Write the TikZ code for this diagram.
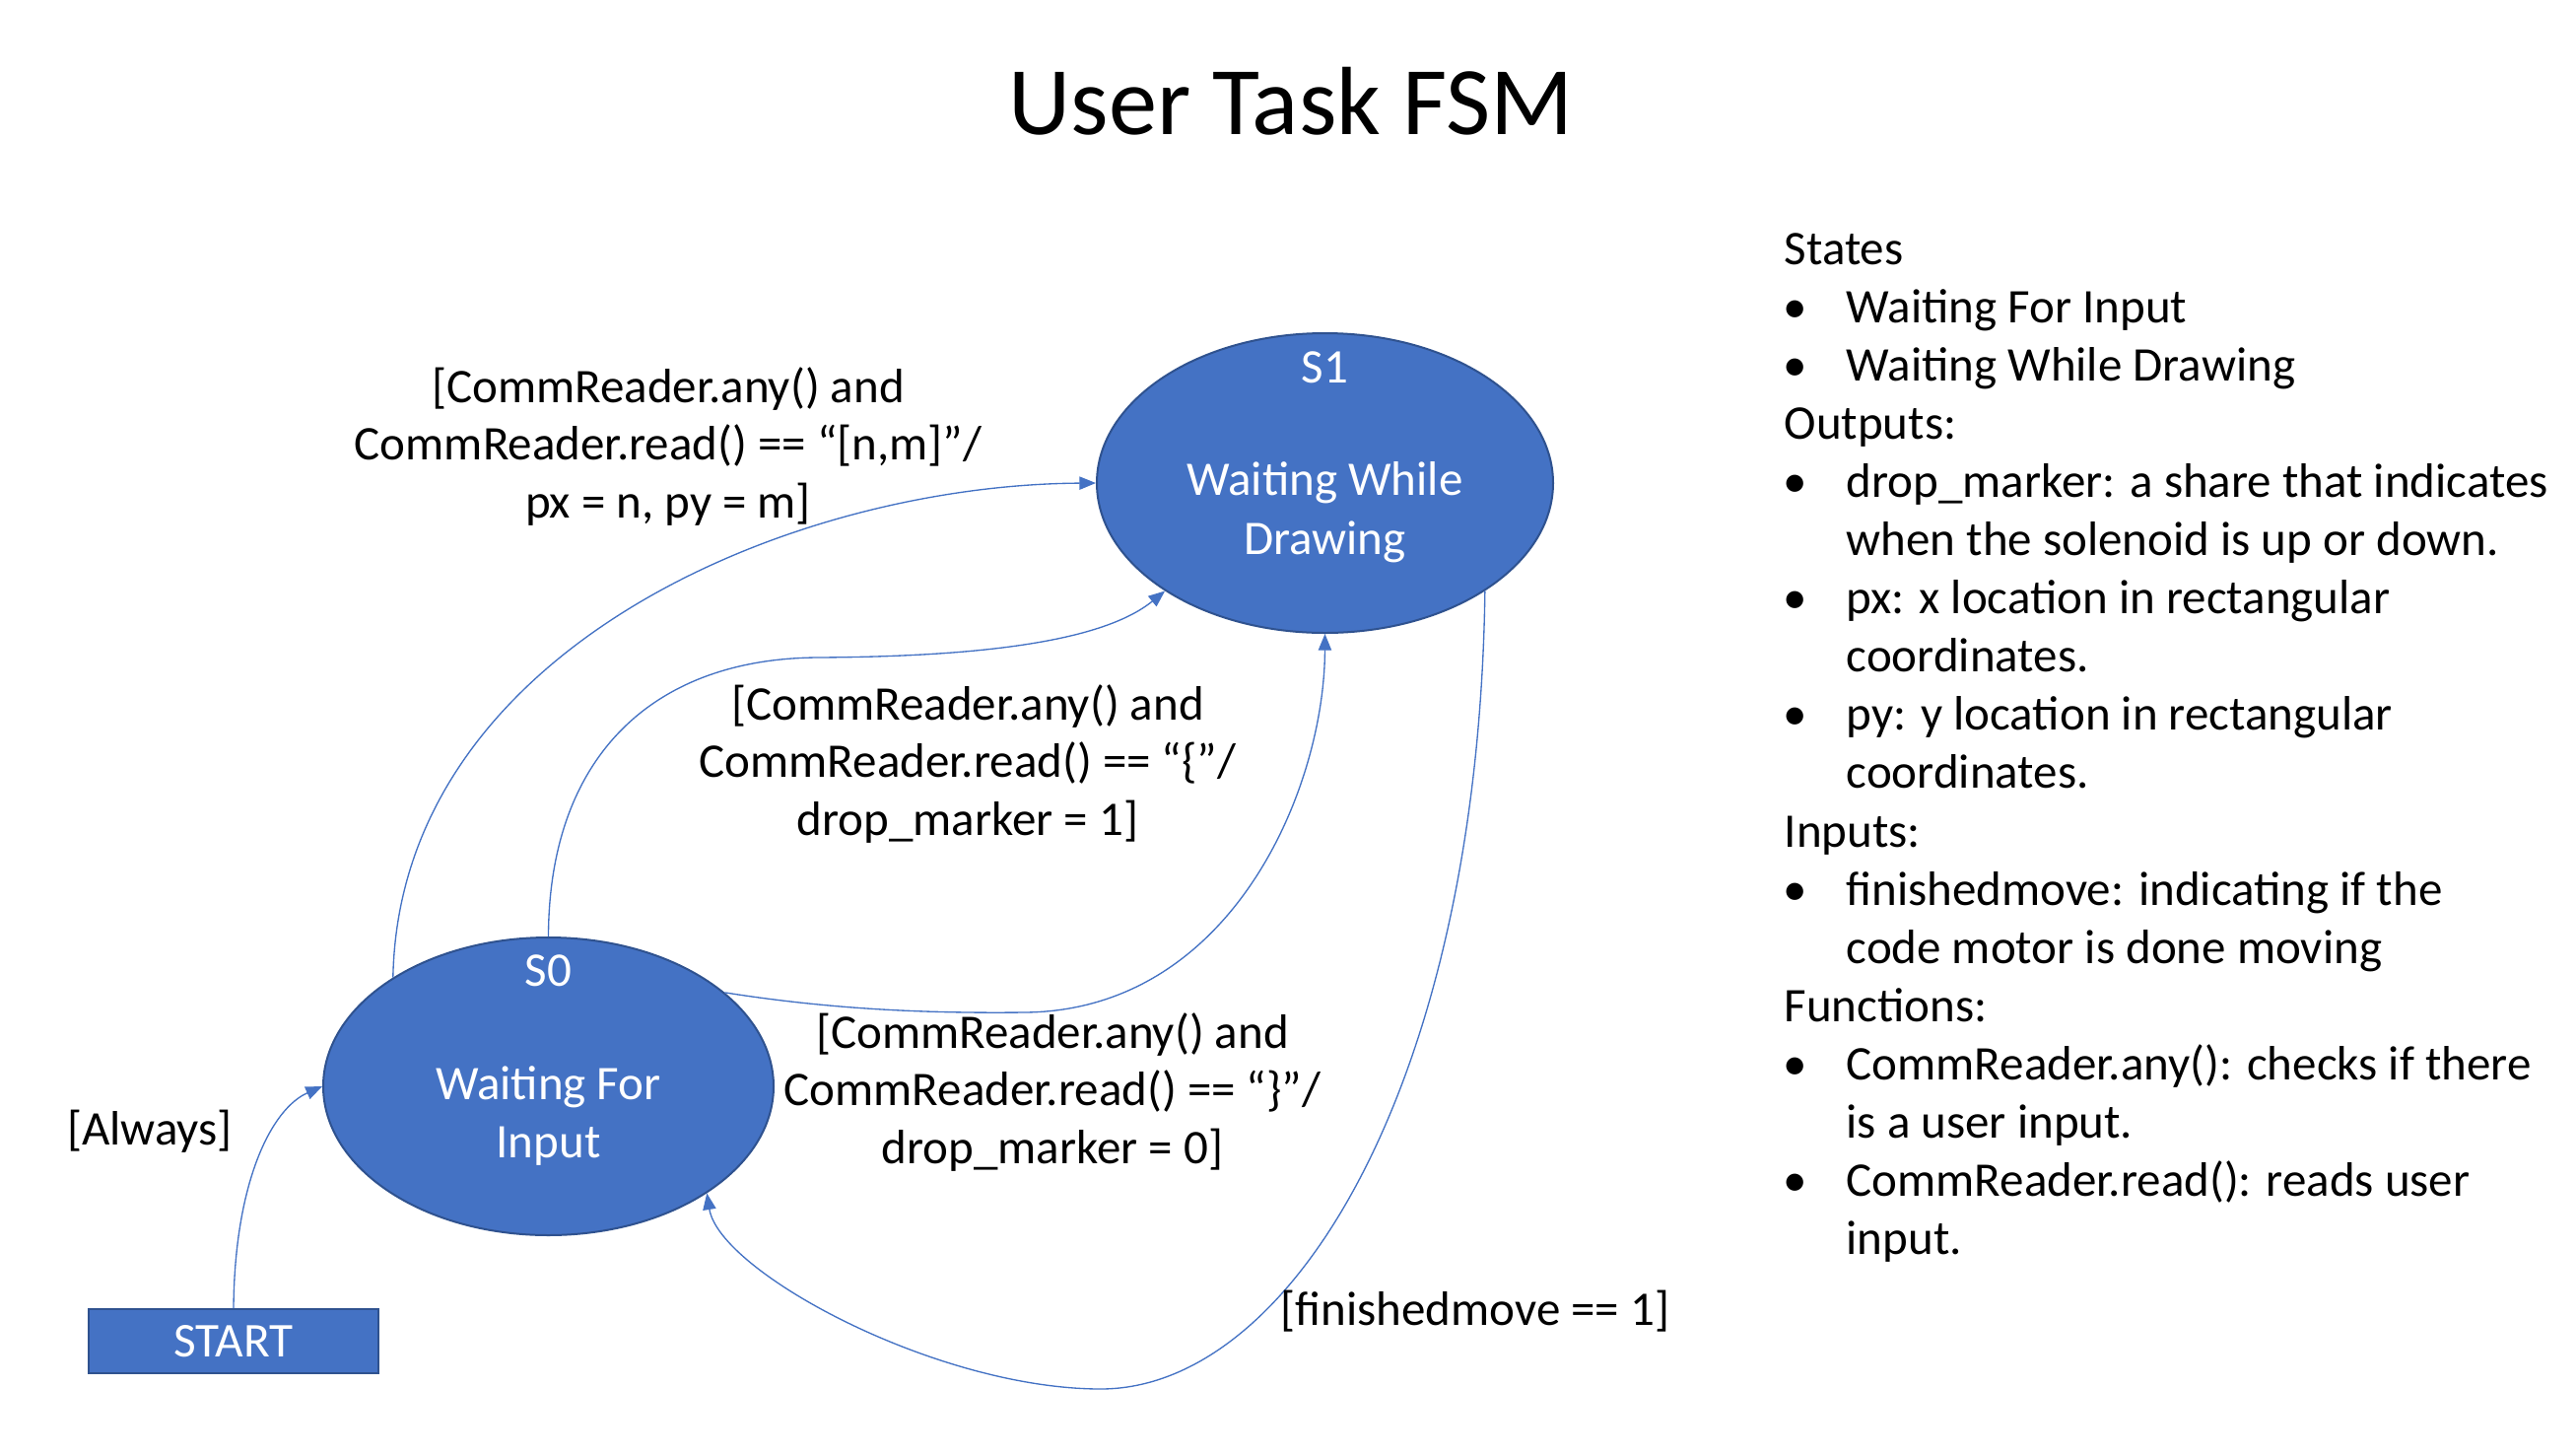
\documentclass[tikz,border=0pt]{standalone}
\usepackage{fontspec}
\setmainfont{Carlito}
\usetikzlibrary{shapes.geometric,arrows.meta}
\definecolor{accent}{HTML}{4472C4}
\definecolor{accentdark}{HTML}{2F528F}
\begin{document}
\begin{tikzpicture}[x=0.3pt,y=-0.3pt,
  state/.style={ellipse,draw=accentdark,line width=0.6pt,fill=accent,inner sep=0pt},
  startbox/.style={rectangle,draw=accentdark,line width=0.6pt,fill=accent,inner sep=0pt,
    minimum width=88.2pt,minimum height=19.5pt,text=white,font=\fontsize{14.8}{17}\selectfont},
  conn/.style={draw=accent,line width=0.4pt,-{Triangle[length=5pt,width=4pt]}},
  intext/.style={text=white,align=center,inner sep=0pt,font=\fontsize{14.7}{17.9}\selectfont},
  lbl/.style={text=black,align=center,inner sep=0pt,font=\fontsize{14.7}{17.6}\selectfont},
  rt/.style={anchor=base west,inner sep=0pt,font=\fontsize{14.7}{17}\selectfont},
  bul/.style={anchor=base,inner sep=0pt,font=\fontsize{14.7}{17}\selectfont},
]
\useasboundingbox (0,0) rectangle (2614,1477);
\fill[white] (0,0) rectangle (2614,1477);

% title
\node[inner sep=0pt,font=\fontsize{29.5}{35}\selectfont] (title) at (1310,103) {User Task FSM};

% states
\node[state,minimum width=138.9pt,minimum height=91.2pt] (s1) at (1344.5,490) {};
\node[state,minimum width=137.1pt,minimum height=90.6pt] (s0) at (556.5,1102) {};
\node[intext] (s1id) at (1344.5,373) {S1};
\node[intext] (s1txt) at (1344.5,520) {Waiting While\\Drawing};
\node[intext] (s0id) at (556.5,985) {S0};
\node[intext] (s0txt) at (556.5,1132) {Waiting For\\Input};
\node[startbox] (start) at (237,1360.5) {START};

% connectors
\draw[conn] (start.north) .. controls (238,1200) and (275,1125) .. (s0.west);
\draw[conn] (s0.145) .. controls (405,660) and (800,492) .. (s1.west);
\draw[conn] (s0.north) .. controls (557,770) and (660,668) .. (830,667)
  .. controls (1000,666) and (1120,650) .. (s1.214);
\draw[conn] (s0.28) .. controls (850,1025) and (950,1028) .. (1040,1027)
  .. controls (1250,1025) and (1344,800) .. (s1.south);
\draw[conn] (s1.-34) .. controls (1500,1100) and (1310,1409) .. (1117,1409)
  .. controls (950,1409) and (730,1290) .. (s0.-34);

% transition labels
\node[lbl] (l2) at (678,453) {[CommReader.any() and\\CommReader.read() == “[n,m]”/\\px = n, py = m]};
\node[lbl] (l3) at (982,775) {[CommReader.any() and\\CommReader.read() == “\{”/\\drop\_marker = 1]};
\node[lbl] (l4) at (1068,1108) {[CommReader.any() and\\CommReader.read() == “\}”/\\drop\_marker = 0]};
\node[lbl] (l5) at (1497,1330) {[finishedmove == 1]};
\node[lbl] (l1) at (152,1148) {[Always]};

% right-hand notes
\foreach \k/\x/\t in {0/1810/States,1/1873/Waiting For Input,2/1873/Waiting While Drawing,
  3/1810/Outputs:,4/1873/drop\_marker: a share that indicates,5/1873/when the solenoid is up or down.,
  6/1873/px: x location in rectangular,7/1873/coordinates.,8/1873/py: y location in rectangular,
  9/1873/coordinates.,10/1810/Inputs:,11/1873/finishedmove: indicating if the,
  12/1873/code motor is done moving,13/1810/Functions:,14/1873/CommReader.any(): checks if there,
  15/1873/is a user input.,16/1873/CommReader.read(): reads user,17/1873/input.}
  \node[rt] (rt\k) at (\x,{268+59.1*\k}) {\t};
\foreach \k in {1,2,4,6,8,11,14,16}
  \node[bul] (bu\k) at (1822,{268+59.1*\k}) {•};
\end{tikzpicture}
\end{document}
